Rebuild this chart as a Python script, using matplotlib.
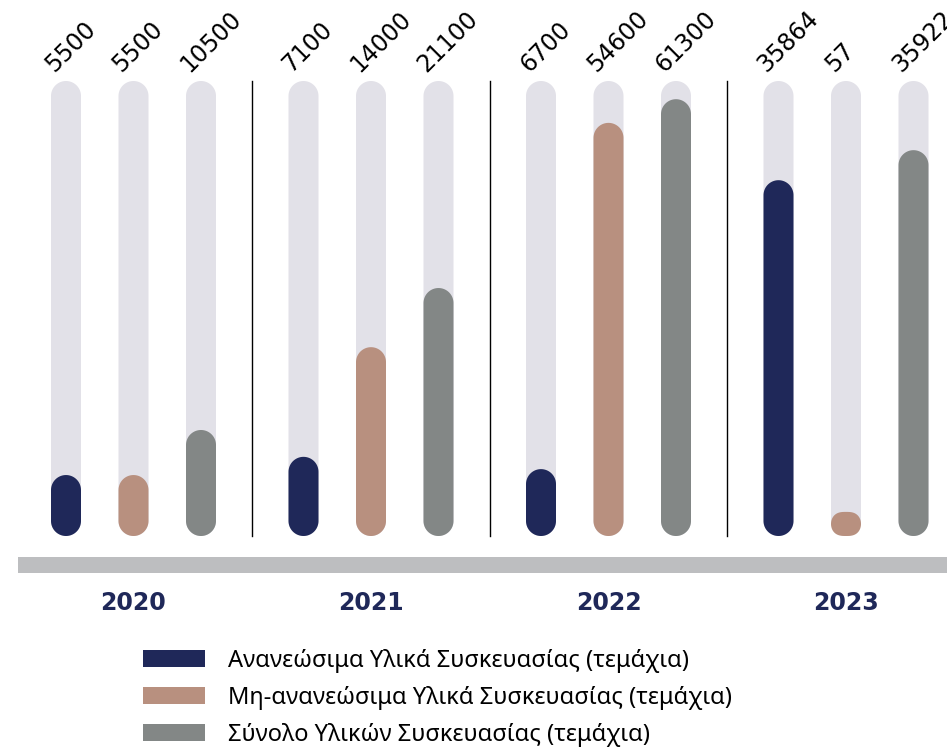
import matplotlib
matplotlib.use("Agg")
import numpy as np
import matplotlib.pyplot as plt
from matplotlib.patches import Polygon, Patch

plt.rcParams["font.family"] = ["Noto Sans", "DejaVu Sans"]

years = ["2020", "2021", "2022", "2023"]
renewable = [5500, 7100, 6700, 35864]
non_renewable = [5500, 14000, 54600, 57]
total = [10500, 21100, 61300, 35922]

# fill level of each bar inside its track (0..1)
renewable_fill = [0.134, 0.174, 0.147, 0.782]
non_renewable_fill = [0.134, 0.415, 0.908, 0.053]
total_fill = [0.233, 0.545, 0.960, 0.848]

series_names = [
    "Ανανεώσιμα Υλικά Συσκευασίας (τεμάχια)",
    "Μη-ανανεώσιμα Υλικά Συσκευασίας (τεμάχια)",
    "Σύνολο Υλικών Συσκευασίας (τεμάχια)",
]
colors = ["#1f2859", "#b8907f", "#838786"]
track_color = "#e2e1e8"
navy = "#1f2859"

W, H = 947, 749
fig = plt.figure(figsize=(W / 100, H / 100), dpi=100)
ax = fig.add_axes([0, 0, 1, 1])

# one data unit = track height (455 px) on both axes
px = 1 / 455
ax.set_xlim(-66 * px, (W - 66) * px)
ax.set_ylim(-(H - 536) * px, 1 + 81 * px)
ax.axis("off")

bar_step = 67.5 * px
group_step = 237.5 * px
bar_w = 30 * px

values = [renewable, non_renewable, total]
fills = [renewable_fill, non_renewable_fill, total_fill]


def rounded_bar(x, h, color, z):
    # half-round ends; short bars get squashed corners
    r = bar_w / 2
    ry = min(r, h / 2)
    t_top = np.linspace(0, np.pi, 40)
    t_bot = np.linspace(np.pi, 2 * np.pi, 40)
    k = 1.0 if ry >= r else 0.7
    top = np.column_stack([x + r * np.sign(np.cos(t_top)) * np.abs(np.cos(t_top)) ** k,
                           h - ry + ry * np.sin(t_top)])
    bot = np.column_stack([x + r * np.sign(np.cos(t_bot)) * np.abs(np.cos(t_bot)) ** k,
                           ry + ry * np.sin(t_bot)])
    ax.add_patch(Polygon(np.vstack([top, bot]), closed=True,
                         facecolor=color, edgecolor="none", zorder=z))


for g, year in enumerate(years):
    for j in range(3):
        x = g * group_step + j * bar_step
        rounded_bar(x, 1.0, track_color, 1)
        rounded_bar(x, fills[j][g], colors[j], 2)
        ax.text(
            x - 12 * px, 1 + 8 * px, str(values[j][g]),
            rotation=45, rotation_mode="anchor",
            ha="left", va="baseline", fontsize=17, color="black",
            family="DejaVu Sans",
        )
    ax.text(
        g * group_step + bar_step, -67 * px, year,
        ha="center", va="center", fontsize=17, fontweight="bold",
        family="DejaVu Sans", color=navy,
    )
    if g > 0:
        xd = g * group_step - (group_step - 2 * bar_step) / 2
        ax.plot([xd, xd], [0, 1], color="black", lw=1, zorder=0)

# base band
ax.axhspan(-37 * px, -21 * px, xmin=18 / W, xmax=1, color="#bdbec0", lw=0)

handles = [Patch(facecolor=c, edgecolor="none") for c in colors]
fig.legend(
    handles, series_names,
    loc="upper left", bbox_to_anchor=(143 / W, 1 - 649 / H),
    frameon=False, fontsize=17, handlelength=2.63, handleheight=0.76,
    handletextpad=0.97, labelspacing=0.55, borderpad=0, borderaxespad=0,
)

fig.savefig("out.png", dpi=100)
